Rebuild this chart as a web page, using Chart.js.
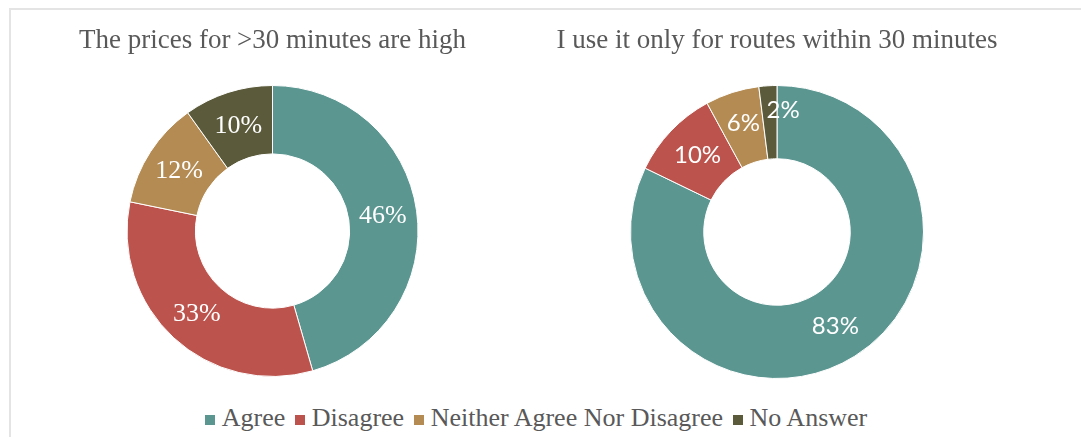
<!DOCTYPE html>
<html>
<head>
<meta charset="utf-8">
<script src="https://cdn.jsdelivr.net/npm/chart.js@4/dist/chart.umd.min.js"></script>
<style>
  html, body { margin: 0; padding: 0; background: #fff; overflow: hidden; }
  body { width: 1081px; height: 437px; position: relative; }
  #frame {
    position: absolute; left: 9px; top: 8px; width: 1200px; height: 600px;
    border-top: 2px solid #e4e4e4; border-left: 2px solid #e4e4e4;
  }
  #left_wrap { position: absolute; left: 0; top: 0; width: 545px; height: 392px; }
  #right_wrap { position: absolute; left: 545px; top: 0; width: 464px; height: 392px; }
  #legend {
    position: absolute; left: 0; top: 403px; width: 1069px; text-align: center;
    font-family: "Liberation Serif", serif; font-size: 26px; line-height: 30px;
    color: #595959; white-space: nowrap;
  }
  #legend span.box { display: inline-block; width: 10px; height: 10px; margin: 0 7px 1px 3px; }
</style>
</head>
<body>
<div id="frame"></div>
<div id="left_wrap"><canvas id="chart_left"></canvas></div>
<div id="right_wrap"><canvas id="chart_right"></canvas></div>
<div id="legend"></div>
<script>
const categories = ['Agree', 'Disagree', 'Neither Agree Nor Disagree', 'No Answer'];
const colors = ['#5B9691', '#BD534D', '#B48B53', '#5B5B3C'];
const pricesHigh = [46, 33, 12, 10];
const shortRoutes = [83, 10, 6, 2];
const titleLeft = 'The prices for >30 minutes are high';
const titleRight = 'I use it only for routes within 30 minutes';

// value labels sit in the middle of each ring segment
const arcLabels = {
  id: 'arcLabels',
  afterDatasetsDraw(chart, args, opts) {
    const ctx = chart.ctx;
    const meta = chart.getDatasetMeta(0);
    const values = chart.data.datasets[0].data;
    const shift = opts.shift || [];
    ctx.save();
    ctx.fillStyle = '#fff';
    ctx.font = opts.font;
    ctx.textAlign = 'center';
    ctx.textBaseline = 'middle';
    meta.data.forEach((arc, i) => {
      const p = arc.getCenterPoint();
      const s = shift[i] || [0, 0];
      ctx.fillText(values[i] + '%', p.x + s[0], p.y + 1 + s[1]);
    });
    ctx.restore();
  }
};

const makeDonut = (id, data, title, labels, cutout, bottom) => {
  new Chart(document.getElementById(id), {
    type: 'doughnut',
    data: {
      labels: categories,
      datasets: [{
        data: data,
        backgroundColor: colors,
        borderColor: '#ffffff',
        borderWidth: 1
      }]
    },
    options: {
      responsive: true,
      maintainAspectRatio: false,
      animation: false,
      cutout: cutout,
      layout: { padding: { top: 25, bottom: bottom } },
      plugins: {
        legend: { display: false },
        tooltip: { enabled: false },
        title: {
          display: true,
          text: title,
          color: '#595959',
          font: { family: '"Liberation Serif", serif', size: 27, weight: 'normal' },
          padding: { top: 0, bottom: 27.6 }
        },
        arcLabels: labels
      }
    },
    plugins: [arcLabels]
  });
};

makeDonut('chart_left', pricesHigh, titleLeft,
  { font: '26px "Liberation Serif", serif' }, '53%', 15);
makeDonut('chart_right', shortRoutes, titleRight,
  { font: '24px Lato, sans-serif', shift: [[0, 0], [0, -2], [0, -5], [13, -13]] }, '50%', 13);

const legendElt = document.getElementById('legend');
legendElt.innerHTML = categories.map((c, i) =>
  '<span class="box" style="background:' + colors[i] + '"></span>' + c
).join(' ');
</script>
</body>
</html>
